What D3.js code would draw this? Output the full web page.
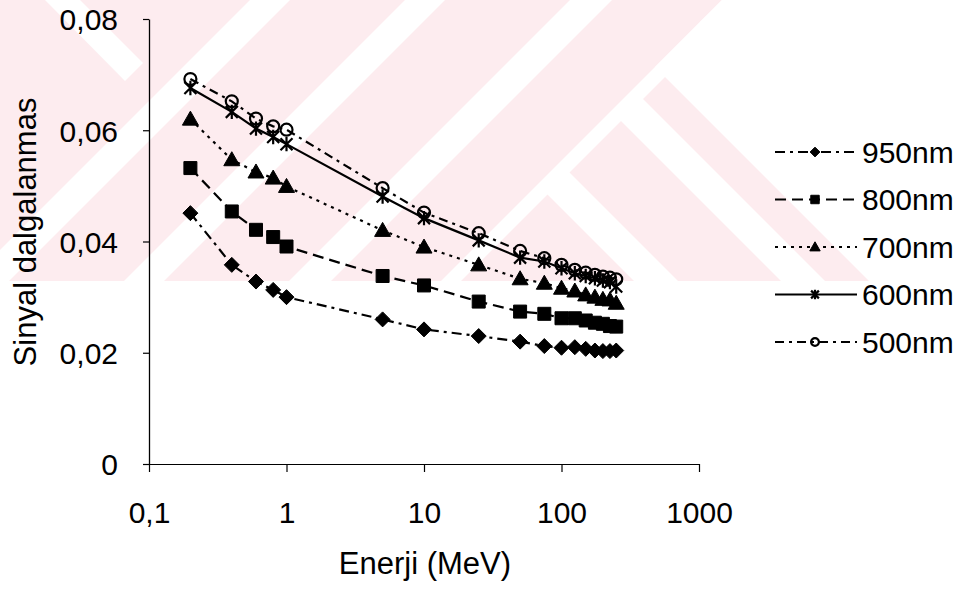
<!DOCTYPE html>
<html>
<head>
<meta charset="utf-8">
<script src="https://cdn.jsdelivr.net/npm/d3@7"></script>
<style>
  html, body { margin: 0; padding: 0; background: #ffffff; }
  svg { display: block; }
  text { font-family: "Liberation Sans", Arial, sans-serif; fill: #000; }
</style>
</head>
<body>
<svg id="chart" width="970" height="589"></svg>
<script>
// Energy values (MeV) shared by every series
const energy = [0.2, 0.4, 0.6, 0.8, 1, 5, 10, 25, 50, 75, 100, 125, 150, 175, 200, 225, 250];

// Signal fluctuation per wavelength
const s950 = [0.0451, 0.0358, 0.0328, 0.0313, 0.0300, 0.0260, 0.0242, 0.0230, 0.0220, 0.0212, 0.0209, 0.0210, 0.0207, 0.0204, 0.0203, 0.0203, 0.0204];
const s800 = [0.0532, 0.0454, 0.0421, 0.0408, 0.0391, 0.0338, 0.0321, 0.0292, 0.0274, 0.0270, 0.0262, 0.0262, 0.0258, 0.0254, 0.0252, 0.0248, 0.0247];
const s700 = [0.0620, 0.0547, 0.0525, 0.0514, 0.0499, 0.0420, 0.0390, 0.0358, 0.0333, 0.0325, 0.0316, 0.0311, 0.0304, 0.0300, 0.0296, 0.0295, 0.0289];
const s600 = [0.0676, 0.0633, 0.0603, 0.0588, 0.0575, 0.0481, 0.0442, 0.0402, 0.0371, 0.0364, 0.0352, 0.0343, 0.0338, 0.0334, 0.0330, 0.0327, 0.0319];
const s500 = [0.0692, 0.0652, 0.0621, 0.0607, 0.0601, 0.0496, 0.0452, 0.0415, 0.0383, 0.0370, 0.0358, 0.0349, 0.0344, 0.0340, 0.0337, 0.0335, 0.0332];

const seriesNames = ["950nm", "800nm", "700nm", "600nm", "500nm"];
const seriesValues = [s950, s800, s700, s600, s500];

const xTicks = [0.1, 1, 10, 100, 1000];
const yTicks = [0, 0.02, 0.04, 0.06, 0.08];

const xTitle = "Enerji (MeV)";
const yTitle = "Sinyal dalgalanmas";

// Line and marker style per series
const styles = {
  "950nm": { dash: "10,5,3,5", marker: "diamond" },
  "800nm": { dash: "11,6", marker: "square" },
  "700nm": { dash: "3,5", marker: "triangle" },
  "600nm": { dash: null, marker: "star" },
  "500nm": { dash: "9,5,3,5", marker: "circle" }
};

const svg = d3.select("#chart");

// Faint pink background emblem
(function drawEmblem() {
  const g = svg.append("g");
  const pink = "#fdecef";
  g.append("path")
    .attr("d", "M0,0 L722,0 L655,67 L869,281 L0,281 Z")
    .attr("fill", pink);
  const white = [
    "M45,0 L80,0 L143,63 L125,81 Z",
    "M700,22 L724,22 L724,0 Z",
    "M612,112 L634,90 L825,281 L781,281 Z",
    "M538,185 L560,163 L678,281 L634,281 Z",
    "M722,0 L742,0 L461,281 L441,281 Z",
    "M570,0 L612,0 L331,281 L289,281 Z",
    "M405,0 L445,0 L164,281 L124,281 Z",
    "M250,0 L290,0 L9,281 L0,281 L0,250 Z"
  ];
  white.forEach(d => g.append("path").attr("d", d).attr("fill", "#ffffff"));
})();

const x = d3.scaleLog().domain([0.1, 1000]).range([149, 699]);
const y = d3.scaleLinear().domain([0, 0.08]).range([464, 19]);

const fmt = d => (d === 0 ? "0" : String(d).replace(".", ","));

// Y axis
const yAxis = svg.append("g")
  .attr("transform", "translate(149,0)")
  .call(d3.axisLeft(y).tickValues(yTicks).tickFormat(d => d === 0 ? "0" : d3.format(".2f")(d).replace(".", ","))
    .tickSize(6).tickSizeOuter(0).tickPadding(25));
yAxis.select(".domain").attr("stroke", "#000").attr("stroke-width", 1.3);
yAxis.selectAll(".tick line").attr("stroke", "#000").attr("stroke-width", 1.2);
yAxis.selectAll(".tick text")
  .attr("font-size", 30)
  .attr("dy", "0.36em");

// X axis
const xAxis = svg.append("g")
  .attr("transform", "translate(0,464)")
  .call(d3.axisBottom(x).tickValues(xTicks).tickFormat(fmt).tickSize(8).tickSizeOuter(0).tickPadding(0));
xAxis.select(".domain").attr("stroke", "#000").attr("stroke-width", 1.2);
xAxis.selectAll(".tick line").attr("stroke", "#000").attr("stroke-width", 1.2);
xAxis.selectAll(".tick text")
  .attr("font-size", 30)
  .attr("y", 59)
  .attr("dy", 0);

// Axis titles
svg.append("text")
  .attr("x", 425).attr("y", 574)
  .attr("text-anchor", "middle")
  .attr("font-size", 31)
  .text(xTitle);
svg.append("text")
  .attr("transform", "translate(36,232) rotate(-90)")
  .attr("text-anchor", "middle")
  .attr("font-size", 31)
  .text(yTitle);

// Marker shapes
function markerPath(type, k) {
  switch (type) {
    case "diamond": { const r = 7.5 * k; return `M0,${-r}L${r},0L0,${r}L${-r},0Z`; }
    case "square": { const r = 6.5 * k; return `M${-r},${-r}H${r}V${r}H${-r}Z`; }
    case "triangle": { const r = 8 * k; return `M0,${-r}L${r},${r * 0.75}L${-r},${r * 0.75}Z`; }
    case "star": { const r = 6 * k; return `M${-r},${-r}L${r},${r}M${-r},${r}L${r},${-r}M0,${-r * 1.2}V${r * 1.2}`; }
    case "circle": { const r = 6 * k; return `M${r},0A${r},${r} 0 1,1 ${-r},0A${r},${r} 0 1,1 ${r},0Z`; }
  }
}
function drawMarker(sel, type, k) {
  const p = sel.append("path").attr("d", markerPath(type, k));
  if (type === "star" || type === "circle") {
    p.attr("fill", "none").attr("stroke", "#000").attr("stroke-width", 2.2);
  } else {
    p.attr("fill", "#000").attr("stroke", "#000").attr("stroke-width", 1);
  }
}

const line = d3.line().x(d => x(d.e)).y(d => y(d.v));

seriesNames.forEach((name, i) => {
  const pts = energy.map((e, j) => ({ e, v: seriesValues[i][j] }));
  const st = styles[name];
  svg.append("path")
    .datum(pts)
    .attr("d", line)
    .attr("fill", "none")
    .attr("stroke", "#000")
    .attr("stroke-width", 2.2)
    .attr("stroke-dasharray", st.dash);
  pts.forEach(p => {
    const g = svg.append("g").attr("transform", `translate(${x(p.e)},${y(p.v)})`);
    drawMarker(g, st.marker, 1);
  });
});

// Legend
const legend = svg.append("g");
seriesNames.forEach((name, i) => {
  const st = styles[name];
  const ly = 152 + i * 47.5;
  const row = legend.append("g").attr("transform", `translate(0,${ly})`);
  row.append("line")
    .attr("x1", 775).attr("x2", 857).attr("y1", 0).attr("y2", 0)
    .attr("stroke", "#000").attr("stroke-width", 2)
    .attr("stroke-dasharray", st.dash);
  const m = row.append("g").attr("transform", "translate(815,0)");
  drawMarker(m, st.marker, 0.65);
  row.append("text")
    .attr("x", 862).attr("y", 0).attr("dy", "0.36em")
    .attr("font-size", 30)
    .text(name);
});
</script>
</body>
</html>
